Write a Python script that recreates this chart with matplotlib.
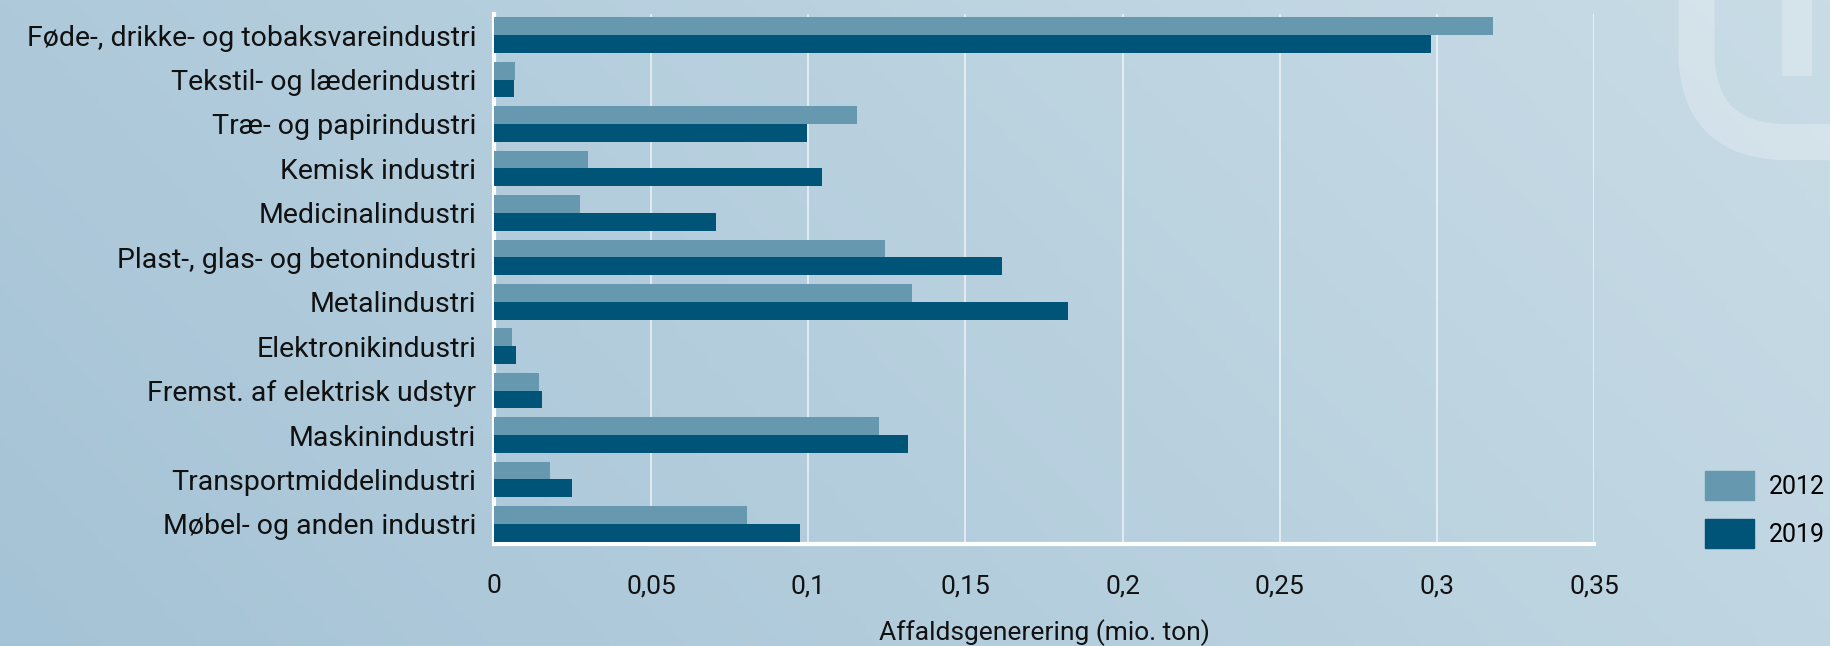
import numpy as np
import matplotlib.pyplot as plt
from matplotlib.patches import Patch, Rectangle, FancyBboxPatch

plt.rcParams['font.family'] = ['Roboto', 'DejaVu Sans']

kategorier = ["Føde-, drikke- og tobaksvareindustri", "Tekstil- og læderindustri",
              "Træ- og papirindustri", "Kemisk industri", "Medicinalindustri",
              "Plast-, glas- og betonindustri", "Metalindustri", "Elektronikindustri",
              "Fremst. af elektrisk udstyr", "Maskinindustri", "Transportmiddelindustri",
              "Møbel- og anden industri"]
v2012 = [0.318, 0.0068, 0.1155, 0.030, 0.0273, 0.1243, 0.1329, 0.0056, 0.0142, 0.1225, 0.0177, 0.0805]
v2019 = [0.298, 0.0064, 0.0995, 0.1043, 0.0705, 0.1615, 0.1826, 0.0071, 0.0154, 0.1318, 0.0247, 0.0973]
xticks = [0, 0.05, 0.1, 0.15, 0.2, 0.25, 0.3, 0.35]
xtick_labels = ["0", "0,05", "0,1", "0,15", "0,2", "0,25", "0,3", "0,35"]

farve12 = '#6699b0'
farve19 = '#005478'

fig = plt.figure(figsize=(18.3, 6.46), dpi=100)

# baggrund med svag gradient
bg = fig.add_axes([0, 0, 1, 1], zorder=-2)
xx, yy = np.meshgrid(np.linspace(0, 1, 300), np.linspace(0, 1, 120))
t = np.clip(0.75 * xx + 0.25 * yy, 0, 1)
c0 = np.array([165, 195, 214]) / 255
c1 = np.array([201, 220, 230]) / 255
img = c0[None, None, :] * (1 - t[..., None]) + c1[None, None, :] * t[..., None]
bg.imshow(img, aspect='auto', extent=[0, 1, 0, 1], origin='lower')
# vandmaerke oppe til hoejre
bg.add_patch(FancyBboxPatch((0.927, 0.78), 0.2, 0.5, boxstyle="round,pad=0,rounding_size=0.05",
                            fill=False, edgecolor='white', alpha=0.25, lw=26,
                            mutation_aspect=18.3 / 6.46))
bg.add_patch(Rectangle((0.974, 0.882), 0.016, 0.2, color='white', alpha=0.25, lw=0))
bg.set_xlim(0, 1)
bg.set_ylim(0, 1)
bg.axis('off')

ax = fig.add_axes([0.27, 0.158, 0.601, 0.82])
ax.set_facecolor('none')

y = np.arange(len(kategorier))
h = 0.4
ax.barh(y - h / 2, v2012, height=h, color=farve12, zorder=3)
ax.barh(y + h / 2, v2019, height=h, color=farve19, zorder=3)

ax.set_xlim(0, 0.35)
ax.set_ylim(11.45, -0.47)
ax.set_yticks(y)
ax.set_yticklabels(kategorier, fontsize=20.5, color='#111111')
ax.set_xticks(xticks)
ax.set_xticklabels(xtick_labels, fontsize=19, color='#111111')
ax.tick_params(axis='y', length=0, pad=13)
ax.tick_params(axis='x', length=0, pad=22)
ax.grid(axis='x', color='white', alpha=0.7, lw=1.2, zorder=0)
ax.set_xlabel("Affaldsgenerering (mio. ton)", fontsize=19, color='#111111', labelpad=15)

for s in ['top', 'right']:
    ax.spines[s].set_visible(False)
ax.spines['left'].set_color('white')
ax.spines['left'].set_linewidth(3)
ax.spines['bottom'].set_color('white')
ax.spines['bottom'].set_linewidth(3)

handles = [Patch(color=farve12, label='2012'), Patch(color=farve19, label='2019')]
fig.legend(handles=handles, loc='upper left', bbox_to_anchor=(0.925, 0.29),
           frameon=False, fontsize=18, handlelength=1.95, handleheight=1.4,
           labelspacing=0.75, handletextpad=0.6, borderpad=0)

fig.savefig('out.png', dpi=100)
